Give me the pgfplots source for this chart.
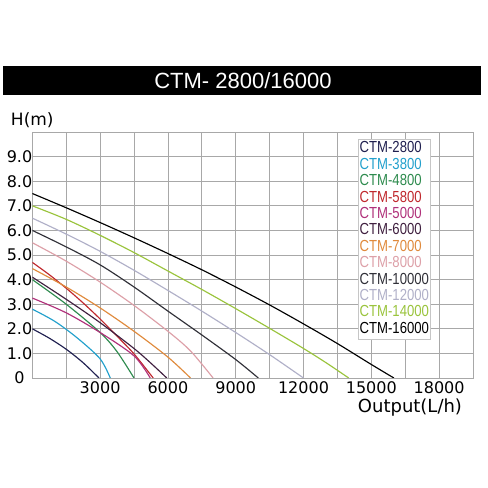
\documentclass[border=0pt]{standalone}
\usepackage{pgfplots}
\pgfplotsset{compat=1.18}
\usepackage{graphicx}
\usepackage{fontspec}
\setmainfont{DejaVu Sans}
\newfontfamily\arialish{Liberation Sans}

\definecolor{gridgray}{HTML}{A8A8A8}
\definecolor{cA}{HTML}{202050}% 2800
\definecolor{cB}{HTML}{22A0CC}% 3800
\definecolor{cC}{HTML}{2E8B4E}% 4800
\definecolor{cD}{HTML}{C0282D}% 5800
\definecolor{cE}{HTML}{B0307A}% 5000
\definecolor{cF}{HTML}{402040}% 6000
\definecolor{cG}{HTML}{E08A3C}% 7000
\definecolor{cH}{HTML}{DDA0A8}% 8000
\definecolor{cI}{HTML}{303038}% 10000
\definecolor{cJ}{HTML}{B0B0C8}% 12000
\definecolor{cK}{HTML}{9AC43C}% 14000
\definecolor{cL}{HTML}{000000}% 16000

\newcommand{\legtxt}[2]{\scalebox{0.82}[1]{\textcolor{#1}{#2}}}

\begin{document}
\begin{tikzpicture}
% page and title bar
\fill[white] (-32.3bp,-110bp) rectangle (455.7bp,378bp);
\fill[black] (-29.3bp,283bp) rectangle (448.7bp,312bp);
\node[white, font=\arialish\fontsize{22bp}{24bp}\selectfont] at (210.7bp,297.5bp) {CTM- 2800/16000};

\begin{axis}[
  scale only axis,
  width=440.7bp, height=246bp,
  anchor=origin, at={(0,0)},
  xmin=0, xmax=19500, ymin=0, ymax=10,
  scaled x ticks=false,
  xtick={3000,6000,9000,12000,15000,18000},
  xticklabels={3000,6000,9000,12000,15000,18000},
  minor xtick={1500,4500,7500,10500,13500,16500,19500},
  ytick={0,1,2,3,4,5,6,7,8,9},
  yticklabels={0,1.0,2.0,3.0,4.0,5.0,6.0,7.0,8.0,9.0},
  grid=both,
  major grid style={gridgray, line width=0.8bp},
  minor grid style={gridgray, line width=0.8bp},
  axis line style={gridgray, line width=0.8bp},
  tick style={draw=none},
  ticklabel style={font=\fontsize{16bp}{18bp}\selectfont},
  yticklabel style={anchor=center, xshift=-12.8bp},
  xlabel={Output(L/h)},
  xlabel style={at={(axis description cs:0.857,-0.122)}, anchor=center, font=\fontsize{18bp}{20bp}\selectfont},
  ylabel={H(m)},
  ylabel style={at={(axis description cs:0,1.049)}, rotate=-90, anchor=center, font=\fontsize{17bp}{19bp}\selectfont},
  legend image code/.code={},
  legend cell align=left,
  legend style={at={(rel axis cs:0.739,0.9715)}, anchor=north west,
    draw={gray!45}, fill=white, inner sep=1.5bp, row sep=0pt,
    font=\arialish\fontsize{16bp}{16bp}\selectfont,
    nodes={inner sep=0pt, text height=12.2bp, text depth=4.2bp}},
  every axis plot/.append style={line width=1.15bp, smooth},
]

\addplot[cA] coordinates {(0,2.0) (750,1.62) (1500,1.17) (2250,0.62) (2950,0)};
\addlegendentry{\legtxt{cA}{CTM-2800}}
\addplot[cB] coordinates {(0,2.8) (1000,2.3) (2000,1.62) (3000,0.78) (3450,0)};
\addlegendentry{\legtxt{cB}{CTM-3800}}
\addplot[cC] coordinates {(0,4.0) (1500,3.0) (3000,1.85) (3750,1.07) (4500,0)};
\addlegendentry{\legtxt{cC}{CTM-4800}}
\addplot[cD] coordinates {(0,4.7) (750,4.2) (1500,3.65) (2250,3.05) (3000,2.4) (3750,1.7) (4500,0.98) (5350,0)};
\addlegendentry{\legtxt{cD}{CTM-5800}}
\addplot[cE] coordinates {(0,3.25) (1500,2.65) (3000,1.85) (4500,0.9) (5220,0)};
\addlegendentry{\legtxt{cE}{CTM-5000}}
\addplot[cF] coordinates {(0,4.1) (1500,3.2) (3000,2.25) (4500,1.2) (5250,0.6) (5950,0)};
\addlegendentry{\legtxt{cF}{CTM-6000}}
\addplot[cG] coordinates {(0,4.45) (1500,3.7) (3000,2.85) (4500,1.9) (6000,0.85) (7000,0)};
\addlegendentry{\legtxt{cG}{CTM-7000}}
\addplot[cH] coordinates {(0,5.5) (1500,4.75) (3000,3.9) (4500,2.95) (6000,1.9) (7000,1.1) (8000,0)};
\addlegendentry{\legtxt{cH}{CTM-8000}}
\addplot[cI] coordinates {(0,6.0) (1500,5.33) (3000,4.6) (4500,3.7) (6000,2.72) (7500,1.75) (9000,0.75) (10000,0)};
\addlegendentry{\legtxt{cI}{CTM-10000}}
\addplot[cJ] coordinates {(0,6.5) (1500,5.85) (3000,5.15) (4500,4.38) (6000,3.56) (7500,2.72) (9000,1.85) (10500,0.95) (12000,0)};
\addlegendentry{\legtxt{cJ}{CTM-12000}}
\addplot[cK] coordinates {(0,7.0) (1500,6.45) (3000,5.8) (4500,5.1) (6000,4.35) (7500,3.6) (9000,2.82) (10500,2.02) (12000,1.2) (13000,0.62) (14000,0)};
\addlegendentry{\legtxt{cK}{CTM-14000}}
\addplot[cL] coordinates {(0,7.5) (1500,6.92) (3000,6.32) (4500,5.7) (6000,5.06) (7500,4.4) (9000,3.7) (10500,2.97) (12000,2.2) (13500,1.4) (15000,0.55) (16000,0)};
\addlegendentry{\legtxt{cL}{CTM-16000}}

\end{axis}
\end{tikzpicture}
\end{document}
